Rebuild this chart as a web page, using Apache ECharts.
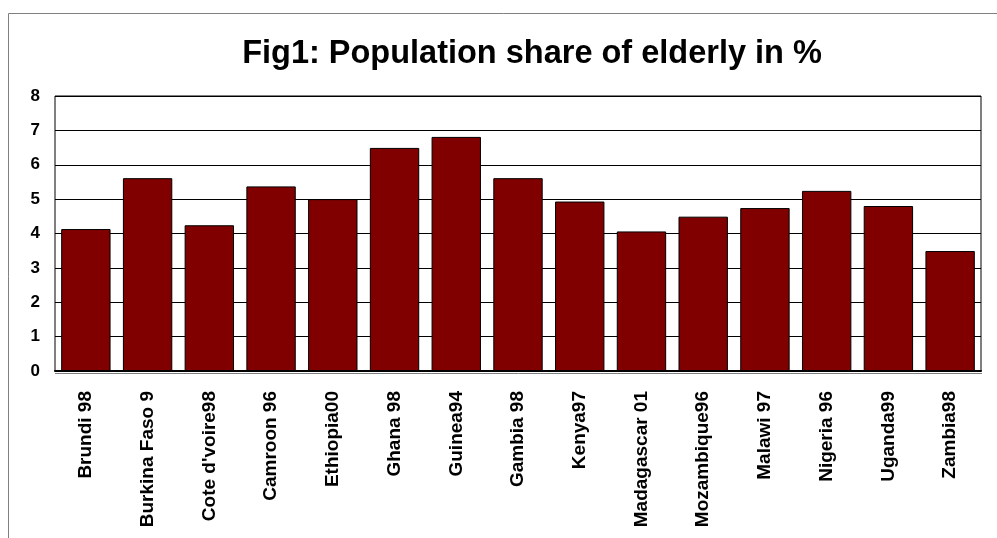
<!DOCTYPE html>
<html>
<head>
<meta charset="utf-8">
<script src="https://cdn.jsdelivr.net/npm/echarts@6/dist/echarts.min.js"></script>
<style>
html,body{margin:0;padding:0;background:#fff;}
#chart{width:997px;height:538px;}
</style>
</head>
<body>
<div id="chart"></div>
<script>
var titleText = 'Fig1: Population share of elderly in %';
var categories = ['Brundi 98','Burkina Faso 9',"Cote d'voire98",'Camroon 96','Ethiopia00','Ghana 98','Guinea94','Gambia 98','Kenya97','Madagascar 01','Mozambique96','Malawi 97','Nigeria 96','Uganda99','Zambia98'];
var shareElderly = [4.13,5.61,4.24,5.37,5.0,6.49,6.81,5.61,4.93,4.06,4.49,4.74,5.24,4.80,3.49];
var yMin = 0, yMax = 8, yStep = 1;

var FONT = "'Liberation Sans', Arial, sans-serif";
var chart = echarts.init(document.getElementById('chart'), null, {renderer:'canvas'});
chart.setOption({
  animation:false,
  backgroundColor:'#ffffff',
  title:{
    text:titleText,
    left:527, top:33, textAlign:'center',
    textStyle:{fontFamily:FONT, fontWeight:'bold', fontSize:32.5, color:'#000'}
  },
  graphic:[{
    type:'rect', z:-1, silent:true,
    shape:{x:8.5, y:13.5, width:1200, height:700},
    style:{fill:'none', stroke:'#808080', lineWidth:1}
  },{
    type:'line', z:-1, silent:true,
    shape:{x1:55, y1:373.5, x2:982, y2:373.5},
    style:{stroke:'#808080', lineWidth:1}
  }],
  grid:{left:55, right:16, top:96, bottom:167, show:true, borderColor:'#000', borderWidth:1, backgroundColor:'#fff'},
  xAxis:{
    type:'category', data:categories,
    axisLine:{show:true, lineStyle:{color:'#000', width:2}},
    axisTick:{show:false},
    axisLabel:{interval:0, rotate:90, margin:20, fontFamily:FONT, fontWeight:'bold', fontSize:19, color:'#000'}
  },
  yAxis:{
    type:'value', min:yMin, max:yMax, interval:yStep,
    axisLine:{show:false}, axisTick:{show:false},
    axisLabel:{margin:15, fontFamily:FONT, fontWeight:'bold', fontSize:17, color:'#000'},
    splitLine:{show:true, lineStyle:{color:'#000', width:1}}
  },
  series:[{
    type:'bar', data:shareElderly, barCategoryGap:'20%',
    itemStyle:{color:'#800000', borderColor:'#000', borderWidth:1}
  }]
});
</script>
</body>
</html>
